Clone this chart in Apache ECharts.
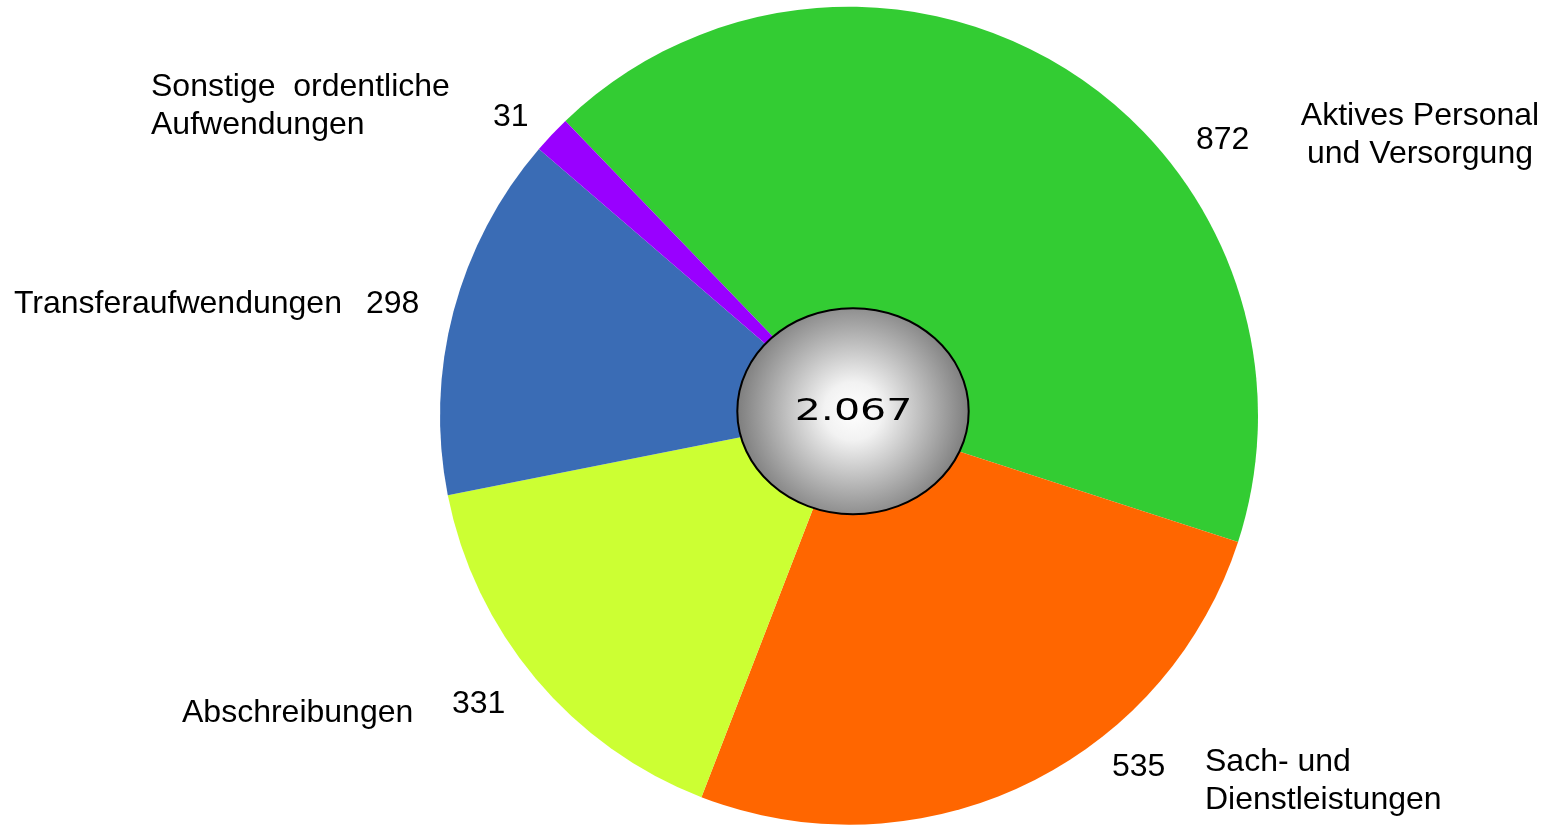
<!DOCTYPE html>
<html>
<head>
<meta charset="utf-8">
<script src="https://cdn.jsdelivr.net/npm/echarts@6/dist/echarts.min.js"></script>
<style>
html,body{margin:0;padding:0;background:#fff;}
#chart{width:1546px;height:825px;}
</style>
</head>
<body>
<div id="chart"></div>
<script>
// ---- data ----
const categories = ['Aktives Personal\nund Versorgung', 'Sach- und\nDienstleistungen', 'Abschreibungen', 'Transferaufwendungen', 'Sonstige  ordentliche\nAufwendungen'];
const values = [872, 535, 331, 298, 31];
const sliceColors = ['#33CC33', '#FF6600', '#CCFF33', '#3A6CB5', '#9900FF'];

// ---- layout (label placement) ----
const nameLabelPos = [
  {x: 1420, y: 135, align: 'center'},
  {x: 1205, y: 781, align: 'left'},
  {x: 182, y: 713, align: 'left'},
  {x: 14, y: 304, align: 'left'},
  {x: 151, y: 106, align: 'left'}
];
const valueLabelPos = [
  {x: 1196, y: 140},
  {x: 1112, y: 767},
  {x: 452, y: 704},
  {x: 366, y: 304},
  {x: 493, y: 117}
];

const total = values.reduce((a, b) => a + b, 0);
function fmtDE(n) { return String(n).replace(/\B(?=(\d{3})+(?!\d))/g, '.'); }

const pieData = categories.map((c, i) => ({ name: c, value: values[i], itemStyle: { color: sliceColors[i] } }));
const FONT = '"Liberation Sans", Arial, sans-serif';
const CX = 849, CY = 415.7, R = 409;

const chart = echarts.init(document.getElementById('chart'), null, { renderer: 'canvas' });
chart.setOption({
  animation: false,
  backgroundColor: '#ffffff',
  series: [
    {
      type: 'pie',
      center: [CX, CY],
      radius: R,
      startAngle: 133.9,
      clockwise: true,
      avoidLabelOverlap: false,
      itemStyle: { borderWidth: 0 },
      emphasis: { disabled: true },
      labelLine: { show: false },
      label: {
        show: true,
        formatter: '{b}',
        fontFamily: FONT,
        fontSize: 32,
        lineHeight: 38,
        color: '#000'
      },
      labelLayout: function (p) {
        const pos = nameLabelPos[p.dataIndex];
        return { x: pos.x, y: pos.y, align: pos.align, verticalAlign: 'middle' };
      },
      data: pieData
    },
    {
      type: 'pie',
      center: [CX, CY],
      radius: R,
      startAngle: 133.9,
      silent: true,
      avoidLabelOverlap: false,
      itemStyle: { color: 'rgba(0,0,0,0)', borderWidth: 0 },
      emphasis: { disabled: true },
      labelLine: { show: false },
      label: {
        show: true,
        formatter: '{c}',
        fontFamily: FONT,
        fontSize: 32,
        color: '#000'
      },
      labelLayout: function (p) {
        const pos = valueLabelPos[p.dataIndex];
        return { x: pos.x, y: pos.y, align: 'left', verticalAlign: 'middle' };
      },
      data: categories.map((c, i) => ({ name: c, value: values[i] }))
    }
  ],
  graphic: [
    {
      type: 'ellipse',
      z: 100,
      shape: { cx: 853, cy: 411.2, rx: 115.7, ry: 103 },
      style: {
        fill: new echarts.graphic.RadialGradient(0.5, 0.5, 0.56, [
          { offset: 0, color: '#ffffff' },
          { offset: 0.25, color: '#f2f2f2' },
          { offset: 1, color: '#7d7d7d' }
        ]),
        stroke: '#000',
        lineWidth: 2
      }
    },
    {
      type: 'text',
      z: 101,
      x: 853.5,
      y: 412.5,
      scaleX: 1.37,
      style: {
        text: fmtDE(total),
        fontFamily: '"DejaVu Sans", sans-serif',
        fontSize: 30,
        fill: '#000',
        align: 'center',
        verticalAlign: 'middle'
      }
    }
  ]
});
</script>
</body>
</html>
